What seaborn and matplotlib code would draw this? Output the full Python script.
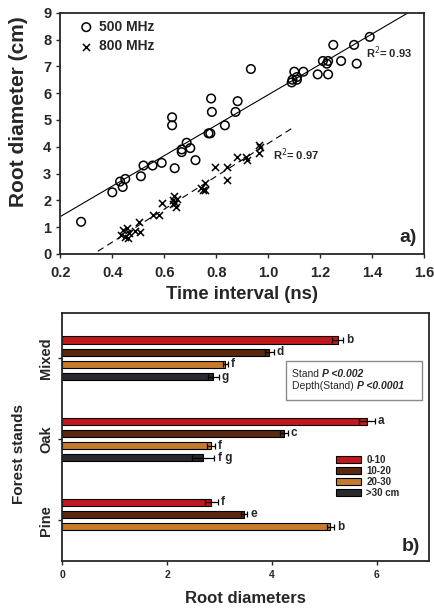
#Root diameter figure: GPR time interval scatter (a) and forest stand bars (b)
import numpy as np
import pandas as pd
import seaborn as sns
import matplotlib
matplotlib.use("Agg")
import matplotlib.pyplot as plt
from matplotlib.patches import Rectangle

#data
x500 = [0.28, 0.40, 0.43, 0.44, 0.45, 0.51, 0.52, 0.555, 0.59, 0.64, 0.63, 0.63,
        0.667, 0.667, 0.686, 0.70, 0.72, 0.77, 0.777, 0.78, 0.783, 0.833, 0.874,
        0.882, 0.933, 1.09, 1.093, 1.10, 1.11, 1.11, 1.135, 1.19, 1.21, 1.225,
        1.23, 1.23, 1.25, 1.28, 1.33, 1.34, 1.39]
y500 = [1.2, 2.3, 2.7, 2.5, 2.8, 2.9, 3.3, 3.3, 3.4, 3.2, 5.1, 4.8,
        3.9, 3.8, 4.15, 3.95, 3.5, 4.5, 4.5, 5.8, 5.3, 4.8, 5.3,
        5.7, 6.9, 6.4, 6.5, 6.8, 6.5, 6.6, 6.8, 6.7, 7.2, 7.1,
        7.2, 6.7, 7.8, 7.2, 7.8, 7.1, 8.1]
x800 = [0.432, 0.44, 0.449, 0.455, 0.46, 0.465, 0.487, 0.506, 0.504, 0.558, 0.58,
        0.592, 0.632, 0.637, 0.64, 0.645, 0.647, 0.635, 0.74, 0.747, 0.755, 0.756,
        0.796, 0.84, 0.84, 0.88, 0.914, 0.917, 0.963, 0.968, 0.963]
y800 = [0.71, 0.9, 0.62, 0.96, 0.58, 0.77, 0.87, 0.83, 1.2, 1.45, 1.45,
        1.9, 2.0, 2.15, 1.9, 1.75, 2.05, 1.85, 2.45, 2.4, 2.65, 2.4,
        3.25, 3.25, 2.75, 3.6, 3.6, 3.5, 4.05, 4.0, 3.75]
r2_500 = "0.93"
r2_800 = "0.97"
fit800_xmax = 1.09

stands = ["Mixed"] * 4 + ["Oak"] * 4 + ["Pine"] * 3
depths = ["0-10", "10-20", "20-30", ">30 cm"] * 2 + ["0-10", "10-20", "20-30"]
diam = [5.25, 3.95, 3.11, 2.88, 5.81, 4.23, 2.83, 2.69, 2.84, 3.47, 5.11]
diam_se = [0.1, 0.08, 0.05, 0.1, 0.15, 0.07, 0.08, 0.21, 0.12, 0.06, 0.07]
letters = ["b", "d", "f", "g", "a", "c", "f", "f g", "f", "e", "b"]
depth_colors = ["#c2171c", "#5a2810", "#c67a2c", "#2a2a2e"]

sns.set_style("ticks")
plt.rcParams["font.family"] = ["Liberation Sans", "DejaVu Sans"]
plt.rcParams["axes.linewidth"] = 1.3

fig = plt.figure(figsize=(4.35, 6.12), dpi=100)

#panel a
ax1 = fig.add_axes([0.1386, 0.585, 0.8368, 0.3942])
ax1.set_xlim(0.2, 1.6)
ax1.set_ylim(0, 9)
sns.scatterplot(x=x500, y=y500, marker="o", s=38, facecolor="none", edgecolor="black",
                linewidth=1.1, label="500 MHz", ax=ax1)
sns.scatterplot(x=x800, y=y800, marker="x", s=26, color="black", linewidth=1.1,
                label="800 MHz", ax=ax1)
sns.regplot(x=x500, y=y500, scatter=False, ci=None, truncate=False,
            line_kws=dict(color="black", lw=0.8), ax=ax1)
b800 = np.polyfit(x800, y800, 1)
xl = np.linspace(0.2, fit800_xmax, 50)
ax1.plot(xl, np.polyval(b800, xl), color="black", lw=0.8, ls=(0, (6, 4)))
ax1.set_xlim(0.2, 1.6)
ax1.set_ylim(0, 9)
ax1.set_xticks(np.arange(0.2, 1.61, 0.2))
ax1.set_yticks(range(0, 10))
ax1.set_xticklabels([f"{v:.1f}" for v in np.arange(0.2, 1.61, 0.2)])
for lab in ax1.get_xticklabels() + ax1.get_yticklabels():
    lab.set_fontweight("bold")
    lab.set_fontsize(10.5)
ax1.tick_params(length=3, width=1)
ax1.tick_params(axis="x", pad=6)
ax1.set_xlabel("Time interval (ns)", fontsize=13.3, fontweight="bold", labelpad=4)
ax1.set_ylabel("Root diameter (cm)", fontsize=15, fontweight="bold")
ax1.yaxis.set_label_coords(-0.09, 0.59)
ax1.legend(loc="upper left", bbox_to_anchor=(0.037, 0.988), frameon=False,
           prop=dict(weight="bold", size=10), handletextpad=0.3, borderaxespad=0,
           borderpad=0.3, labelspacing=0.4, handlelength=1.2)
ax1.text(1.374, 7.5, r"R$^2$= " + r2_500, fontsize=8, fontweight="bold", va="center")
ax1.text(1.017, 3.7, r"R$^2$= " + r2_800, fontsize=8, fontweight="bold", va="center")
ax1.text(0.98, 0.07, "a)", transform=ax1.transAxes, ha="right", va="center",
         fontsize=14, fontweight="bold")
sns.despine(ax=ax1, top=False, right=False)

#panel b
df = pd.DataFrame({"stand": stands, "depth": depths, "diam": diam,
                   "se": diam_se, "letter": letters})
ax2 = fig.add_axes([0.1432, 0.0833, 0.844, 0.4053])
sns.barplot(data=df, y="stand", x="diam", hue="depth", orient="h",
            order=["Mixed", "Oak", "Pine"], hue_order=["0-10", "10-20", "20-30", ">30 cm"],
            palette=depth_colors, saturation=1, errorbar=None, width=0.6, gap=0.4,
            edgecolor="black", linewidth=0.8, ax=ax2)
for bar in ax2.patches:
    w = bar.get_width()
    hit = df[np.isclose(df["diam"], w)]
    if len(hit) == 0 or bar.get_height() > 0.5:
        continue
    row = hit.iloc[0]
    yc = bar.get_y() + bar.get_height() / 2
    ax2.errorbar(w, yc, xerr=row["se"], color="black", lw=0.9, capsize=2.5, capthick=0.9)
    ax2.text(w + row["se"] + 0.06, yc, row["letter"], va="center", ha="left",
             fontsize=8.5, fontweight="bold")
ax2.set_xlim(0, 7)
ax2.set_ylim(2.5, -0.56)
ax2.set_xticks([0, 2, 4, 6])
ax2.tick_params(length=3, width=1)
for lab in ax2.get_xticklabels():
    lab.set_fontweight("bold")
    lab.set_fontsize(7.5)
for lab in ax2.get_yticklabels():
    lab.set_fontweight("bold")
    lab.set_fontsize(10.5)
    lab.set_rotation(90)
    lab.set_va("center")
ax2.set_xlabel("Root diameters", fontsize=12, fontweight="bold", labelpad=8)
ax2.set_ylabel("Forest stands", fontsize=11, fontweight="bold")
ax2.yaxis.set_label_coords(-0.10, 0.43)
handles, labels = ax2.get_legend_handles_labels()
ax2.legend(handles, labels, loc="upper left", bbox_to_anchor=(0.735, 0.445), frameon=False,
           prop=dict(size=7, weight="bold"), handlelength=2.6, handleheight=0.75,
           labelspacing=0.12, handletextpad=0.5, borderaxespad=0)
ax2.add_patch(Rectangle((0.609, 0.649), 0.371, 0.157, transform=ax2.transAxes,
                        fill=False, edgecolor="#8a8a8a", lw=1))
t1 = ax2.text(0.627, 0.755, "Stand ", transform=ax2.transAxes, fontsize=7.5, va="center")
ax2.annotate("P <0.002", xy=(1, 0), xycoords=t1, va="bottom", fontsize=7.5,
             fontweight="bold", fontstyle="italic")
t2 = ax2.text(0.627, 0.705, "Depth(Stand) ", transform=ax2.transAxes, fontsize=7.5, va="center")
ax2.annotate("P <0.0001", xy=(1, 0), xycoords=t2, va="bottom", fontsize=7.5,
             fontweight="bold", fontstyle="italic")
ax2.text(0.975, 0.06, "b)", transform=ax2.transAxes, ha="right", va="center",
         fontsize=14, fontweight="bold")
sns.despine(ax=ax2, top=False, right=False)

fig.savefig("out.png", dpi=100)
